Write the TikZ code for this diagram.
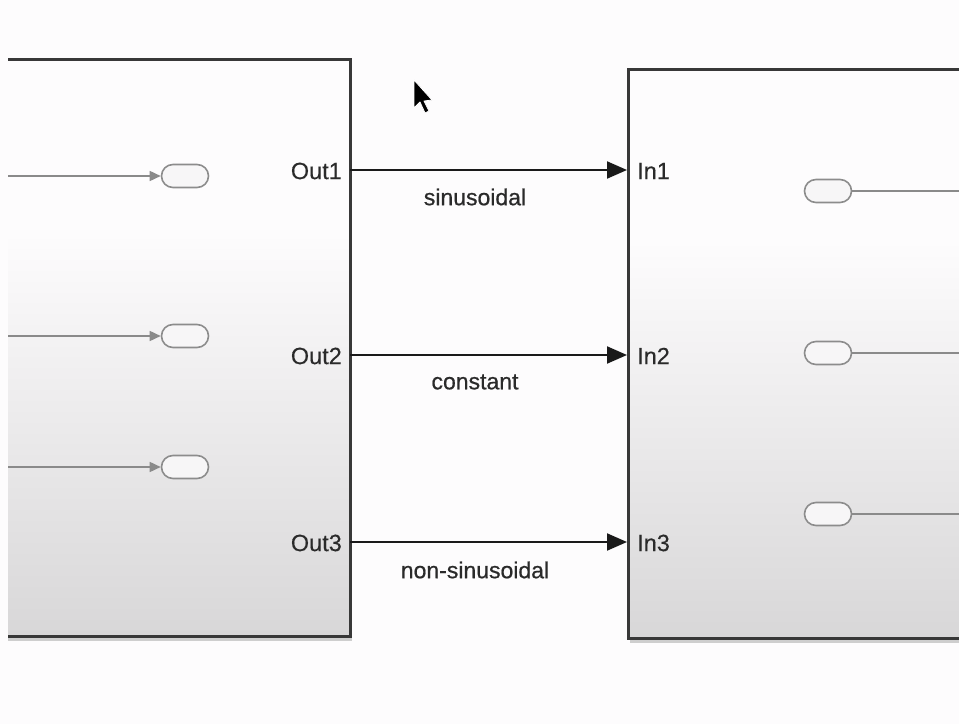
\documentclass[tikz,border=0pt]{standalone}
\usepackage{fontspec}
\setmainfont{Liberation Sans}
\newfontfamily\portfont[FakeBold=0.3]{Liberation Sans}
\newfontfamily\sigfont[FakeBold=0.7]{Liberation Sans}
\usetikzlibrary{arrows.meta,shapes.misc}
\definecolor{bordercol}{HTML}{383838}
\definecolor{conncol}{HTML}{1A1A1A}
\definecolor{innercol}{HTML}{8A8A8A}
\definecolor{ovalcol}{HTML}{8C8C8C}
\definecolor{topfill}{HTML}{FDFCFD}
\definecolor{midfill}{HTML}{EDECED}
\definecolor{botfill}{HTML}{D8D7D8}
\definecolor{bgcol}{HTML}{FDFCFD}
\definecolor{shadowcol}{HTML}{B0B0B0}
\definecolor{textcol}{HTML}{2A2A2A}
\pgfdeclareverticalshading{blockshade}{100bp}{color(0bp)=(botfill); color(25bp)=(botfill); color(45bp)=(midfill); color(60bp)=(topfill); color(100bp)=(topfill)}
\begin{document}
\begin{tikzpicture}[x=1bp,y=-1bp,
  every node/.style={text=textcol, inner sep=0pt},
  blockfill/.style={shading=blockshade, draw=none},
  blockline/.style={draw=bordercol, line width=3bp},
  shadowline/.style={draw=shadowcol, line width=4bp, opacity=0.6},
  conn/.style={draw=conncol, line width=2bp, -{Triangle[length=20bp,width=17bp]}},
  innerline/.style={draw=innercol, line width=1.6bp},
  innerarrow/.style={innerline, -{Triangle[length=11bp,width=10bp]}},
  oval/.style={rounded rectangle, draw=ovalcol, line width=1.6bp, fill=topfill!60!midfill, minimum width=47bp, minimum height=23bp},
  portlabel/.style={font=\portfont\fontsize{23.5bp}{28bp}\selectfont},
  siglabel/.style={font=\sigfont\fontsize{23bp}{28bp}\selectfont}
]
\useasboundingbox[fill=bgcol] (0,0) rectangle (959,724);

% left block
\shade[blockfill] (8,60) rectangle (350,636);
\draw[shadowline] (8,639) -- (352,639);
\draw[blockline] (8,60) -- (350,60) -- (350,636) -- (8,636);

% right block
\shade[blockfill] (628,70) rectangle (959,638);
\draw[shadowline] (630,641) -- (959,641);
\draw[blockline] (959,70) -- (628,70) -- (628,638) -- (959,638);

% port coordinates
\coordinate (o1) at (350,170);
\coordinate (o2) at (350,355);
\coordinate (o3) at (350,542);
\coordinate (i1) at (627,170);
\coordinate (i2) at (627,355);
\coordinate (i3) at (627,542);

% port labels
\node[portlabel, anchor=east] (out1) at (342,171) {Out1};
\node[portlabel, anchor=east] (out2) at (342,356) {Out2};
\node[portlabel, anchor=east] (out3) at (342,543) {Out3};
\node[portlabel, anchor=west] (in1) at (637,171) {In1};
\node[portlabel, anchor=west] (in2) at (637,356) {In2};
\node[portlabel, anchor=west] (in3) at (637,543) {In3};

% connectors
\draw[conn] (o1) -- (i1);
\draw[conn] (o2) -- (i2);
\draw[conn] (o3) -- (i3);

% signal labels
\node[siglabel] (s1) at (475,197) {sinusoidal};
\node[siglabel] (s2) at (475,382) {constant};
\node[siglabel] (s3) at (475,570) {non-sinusoidal};

% left inner elements
\node[oval] (la1) at (185,176) {};
\node[oval] (la2) at (185,336) {};
\node[oval] (la3) at (185,467) {};
\coordinate (lb1) at (8,176);
\coordinate (lb2) at (8,336);
\coordinate (lb3) at (8,467);
\draw[innerarrow] (lb1) -- (la1.west);
\draw[innerarrow] (lb2) -- (la2.west);
\draw[innerarrow] (lb3) -- (la3.west);

% right inner elements
\node[oval] (ra1) at (828,191) {};
\node[oval] (ra2) at (828,353) {};
\node[oval] (ra3) at (828,514) {};
\coordinate (rb1) at (959,191);
\coordinate (rb2) at (959,353);
\coordinate (rb3) at (959,514);
\draw[innerline] (ra1.east) -- (rb1);
\draw[innerline] (ra2.east) -- (rb2);
\draw[innerline] (ra3.east) -- (rb3);

% mouse cursor
\fill[black, draw=white, line width=0.8bp, line join=round]
  (414,80) -- (414,108) -- (420,102) -- (425,113) -- (429,111) -- (424,101) -- (432,100) -- cycle;
\end{tikzpicture}
\end{document}
